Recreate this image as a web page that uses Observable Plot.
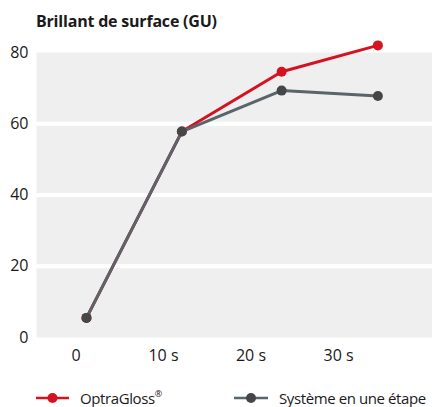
<!DOCTYPE html>
<html>
<head>
<meta charset="utf-8">
<script src="https://cdn.jsdelivr.net/npm/d3@7"></script>
<script src="https://cdn.jsdelivr.net/npm/@observablehq/plot@0.6"></script>
<style>
  html, body { margin: 0; padding: 0; background: white; }
  #wrap { position: relative; width: 432px; height: 407px; overflow: hidden; font-family: "Open Sans", sans-serif; color: #1a1a1a; }
  #title { position: absolute; left: 36px; top: 9px; font-weight: 700; font-size: 16px; line-height: 24px; white-space: nowrap; letter-spacing: -0.2px; }
  #chart { position: absolute; left: 0; top: 0; }
  .leg { position: absolute; top: 390px; height: 16px; line-height: 16px; display: flex; align-items: center; font-size: 15px; letter-spacing: -0.4px; white-space: nowrap; }
  .leg svg { margin-right: 11px; }
  sup { font-size: 9px; vertical-align: 7px; line-height: 0; }
</style>
</head>
<body>
<div id="wrap">
  <div id="title">Brillant de surface (GU)</div>
  <div id="chart"></div>
  <div class="leg" id="leg1" style="left:36px"></div>
  <div class="leg" id="leg2" style="left:234px"></div>
</div>
<script>
// Data
const times = [1.2, 12.1, 23.5, 34.5];          // seconds (as placed on the x axis)
const optraGloss = [5.5, 57.8, 74.6, 82.0];
const systeme = [5.5, 57.8, 69.3, 67.8];
const xTicks = [0, 10, 20, 30];
const xTickLabels = ["0", "10 s", "20 s", "30 s"];
const yTicks = [0, 20, 40, 60, 80];
const gridValues = [20, 40, 60];
const seriesNames = ["OptraGloss", "Système en une étape"];

const red = "#d5121f";
const grayLine = "#5a646b";
const grayDot = "#464646";

const dataA = times.map((t, i) => ({t, v: optraGloss[i]}));
const dataB = times.map((t, i) => ({t, v: systeme[i]}));

const chart = Plot.plot({
  width: 432,
  height: 375,
  marginLeft: 36,
  marginRight: 0,
  marginTop: 52,
  marginBottom: 38,
  style: {fontFamily: "Open Sans", fontSize: "16px", color: "#1a1a1a", background: "transparent", overflow: "visible"},
  x: {domain: [-4.51, 40.74]},
  y: {domain: [0, 80]},
  marks: [
    Plot.frame({fill: "#efefef"}),
    Plot.ruleY(gridValues, {stroke: "white", strokeWidth: 4}),
    Plot.axisY(yTicks, {tickSize: 0, tickPadding: 8, label: null, fontSize: 16}),
    Plot.axisX(xTicks, {tickSize: 0, tickPadding: 12, label: null, fontSize: 16,
      tickFormat: d => xTickLabels[xTicks.indexOf(d)]}),
    Plot.line(dataA, {x: "t", y: "v", stroke: red, strokeWidth: 3}),
    Plot.dot(dataA, {x: "t", y: "v", r: 5, fill: red}),
    Plot.line(dataB, {x: "t", y: "v", stroke: grayLine, strokeWidth: 3}),
    Plot.dot(dataB, {x: "t", y: "v", r: 5, fill: grayDot})
  ]
});
document.getElementById("chart").appendChild(chart);

function swatch(lineColor, dotColor, w) {
  return `<svg width="${w}" height="12" viewBox="0 0 ${w} 12"><line x1="0" x2="${w}" y1="6" y2="6" stroke="${lineColor}" stroke-width="2.5"/><circle cx="${w/2}" cy="6" r="5" fill="${dotColor}"/></svg>`;
}
document.getElementById("leg1").innerHTML = swatch(red, red, 33) + `<span>${seriesNames[0]}<sup>®</sup></span>`;
document.getElementById("leg2").innerHTML = swatch(grayLine, grayDot, 34) + `<span>${seriesNames[1]}</span>`;
</script>
</body>
</html>
